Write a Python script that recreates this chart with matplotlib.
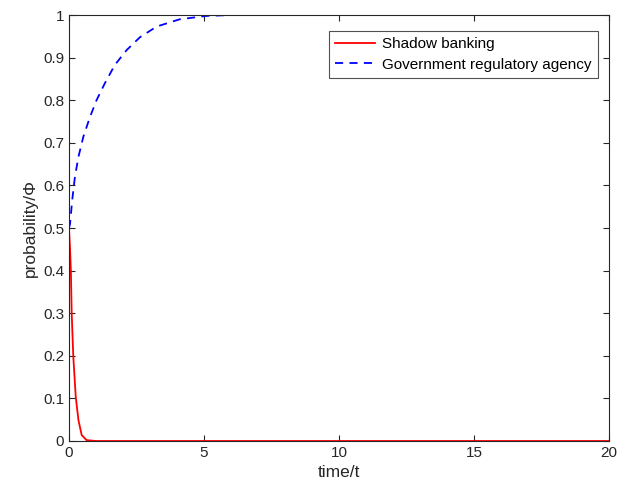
import matplotlib.pyplot as plt

# values
t_shadow = [0, 0.04, 0.07, 0.10, 0.16, 0.25, 0.35, 0.47, 0.65, 1.0, 20]
p_shadow = [0.5, 0.448, 0.40, 0.30, 0.198, 0.104, 0.049, 0.014, 0.002, 0.0, 0.0]

t_gov = [0, 0.04, 0.12, 0.22, 0.35, 0.53, 0.78, 1.02, 1.33, 1.70, 2.14, 2.63, 3.25, 4.1, 5.1, 6.0, 20]
p_gov = [0.5, 0.51, 0.566, 0.620, 0.667, 0.714, 0.761, 0.80, 0.84, 0.883, 0.918, 0.948, 0.973, 0.99, 0.998, 1.0, 1.0]

plt.rcParams['font.family'] = ['Liberation Sans', 'DejaVu Sans']

fig = plt.figure(figsize=(6.3, 4.93), dpi=100)
ax = fig.add_axes([0.1095, 0.1055, 0.857, 0.864])

ax.plot(t_shadow, p_shadow, color='#ff0000', lw=1.3, label='Shadow banking')
ax.plot(t_gov, p_gov, color='#0000ff', lw=1.3, ls=(0, (4.5, 3.5)), label='Government regulatory agency')

ax.set_xlim(0, 20)
ax.set_ylim(0, 1)
ax.set_xticks([0, 5, 10, 15, 20])
ax.set_yticks([0, 0.1, 0.2, 0.3, 0.4, 0.5, 0.6, 0.7, 0.8, 0.9, 1])
ax.set_yticklabels(['0', '0.1', '0.2', '0.3', '0.4', '0.5', '0.6', '0.7', '0.8', '0.9', '1'])
ax.tick_params(direction='in', top=True, right=True, labelsize=11, colors='#262626', length=4)
for s in ax.spines.values():
    s.set_color('#262626')
    s.set_linewidth(0.8)

ax.set_xlabel('time/t', fontsize=12.5, color='#262626')
ax.set_ylabel('probability/Φ', fontsize=12.5, color='#262626')

leg = ax.legend(loc='upper right', bbox_to_anchor=(0.98, 0.963), fontsize=11,
                frameon=True, fancybox=False, edgecolor='#262626',
                handlelength=2.6, handletextpad=0.5, borderaxespad=0,
                borderpad=0.4, labelspacing=0.45)
leg.get_frame().set_linewidth(0.8)

fig.savefig('out.png', dpi=100)
